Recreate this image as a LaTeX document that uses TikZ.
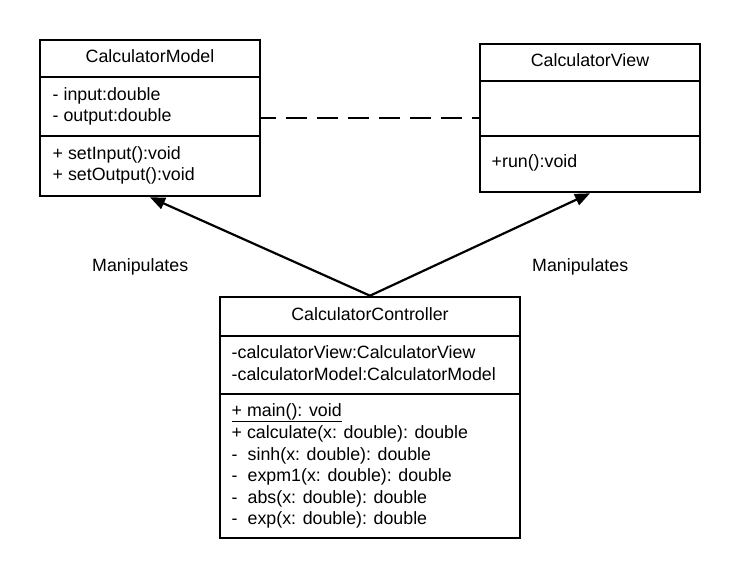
\documentclass[tikz,border=0pt]{standalone}
\usepackage{fontspec}
\setmainfont{Liberation Sans}
\usetikzlibrary{arrows.meta}
\newcommand{\mdash}{\makebox[0.9em][l]{-}}
\begin{document}
\begin{tikzpicture}[x=1pt,y=-1pt,
  box/.style={draw, line width=2.6pt, rectangle, inner sep=0pt},
  txt/.style={anchor=base west, inner sep=0pt, font=\fontsize{17.8}{21.5}\selectfont},
  ttl/.style={anchor=base, inner sep=0pt, font=\fontsize{17.8}{21.5}\selectfont},
  divider/.style={line width=2.6pt},
  assoc/.style={line width=2.2pt, -{Triangle[length=15pt,width=12pt]}},
  dep/.style={line width=2.5pt, dash pattern=on 21pt off 10pt, dash phase=6pt},
]
\useasboundingbox (0,0) rectangle (740,581);
\fill[white] (0,0) rectangle (740,581);

% CalculatorModel
\node[box, minimum width=220pt, minimum height=156pt] (model) at (150,118) {};
\draw[divider] (model.west |- 0,77) -- (model.east |- 0,77);
\draw[divider] (model.west |- 0,136) -- (model.east |- 0,136);
\node[ttl] (mtitle) at (150,62) {CalculatorModel};
\node[txt] (ma1) at (52.5,100) {- input:double};
\node[txt] (ma2) at (52.5,121.5) {- output:double};
\node[txt] (mm1) at (52.5,159) {+ setInput():void};
\node[txt] (mm2) at (52.5,180.5) {+ setOutput():void};

% CalculatorView
\node[box, minimum width=220pt, minimum height=148pt] (view) at (590,118) {};
\draw[divider] (view.west |- 0,81) -- (view.east |- 0,81);
\draw[divider] (view.west |- 0,136) -- (view.east |- 0,136);
\node[ttl] (vtitle) at (590,66) {CalculatorView};
\node[txt] (vm1) at (491.5,167.5) {+run():void};

% CalculatorController
\node[box, minimum width=300pt, minimum height=241pt] (ctrl) at (370,417.5) {};
\draw[divider] (ctrl.west |- 0,336) -- (ctrl.east |- 0,336);
\draw[divider] (ctrl.west |- 0,394) -- (ctrl.east |- 0,394);
\node[ttl] (ctitle) at (370,320.5) {CalculatorController};
\node[txt] (ca1) at (231.5,358) {-calculatorView:CalculatorView};
\node[txt] (ca2) at (231.5,380) {-calculatorModel:CalculatorModel};
\node[txt] (cm1) at (231.5,416.5) {\underline{+ main(): void}};
\node[txt] (cm2) at (231.5,438) {+ calculate(x: double): double};
\node[txt] (cm3) at (231.5,460) {\mdash sinh(x: double): double};
\node[txt] (cm4) at (231.5,481.5) {\mdash expm1(x: double): double};
\node[txt] (cm5) at (231.5,503) {\mdash abs(x: double): double};
\node[txt] (cm6) at (231.5,524.5) {\mdash exp(x: double): double};

% connectors
\draw[dep] (model.east) -- (view.west);
\draw[assoc] (ctrl.north) -- (model.south);
\draw[assoc] (ctrl.north) -- (view.south);

\node[txt] (lab1) at (92,271) {Manipulates};
\node[txt] (lab2) at (532,271) {Manipulates};
\end{tikzpicture}
\end{document}
